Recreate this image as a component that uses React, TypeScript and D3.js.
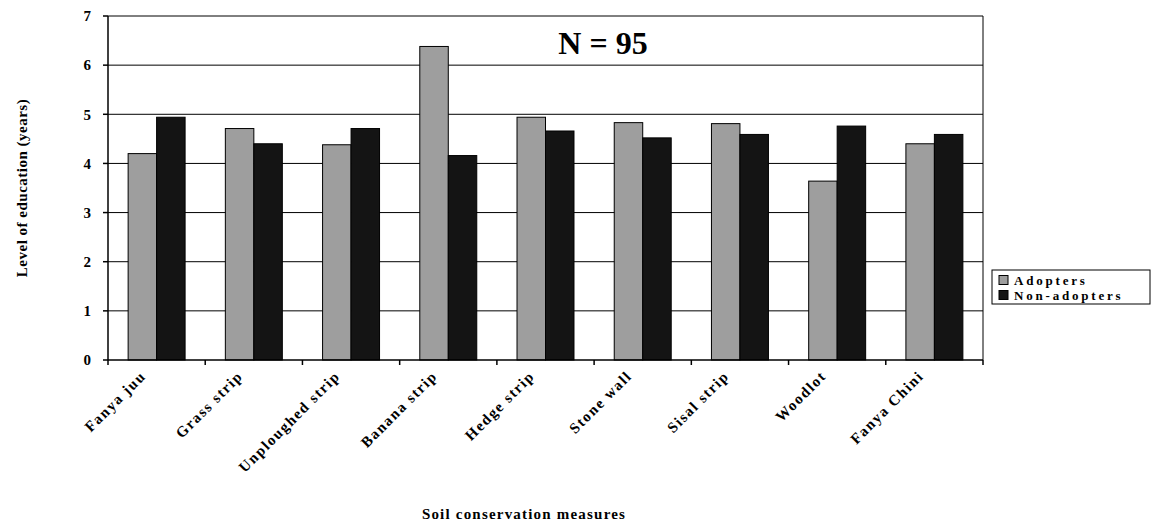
import React from "react";
import * as d3 from "d3";

const categories = [
  "Fanya juu",
  "Grass strip",
  "Unploughed strip",
  "Banana strip",
  "Hedge strip",
  "Stone wall",
  "Sisal strip",
  "Woodlot",
  "Fanya Chini",
];
const adopters = [4.2, 4.71, 4.38, 6.38, 4.94, 4.83, 4.81, 3.64, 4.4];
const nonAdopters = [4.94, 4.4, 4.71, 4.16, 4.66, 4.52, 4.59, 4.76, 4.59];
const seriesNames = ["Adopters", "Non-adopters"];
const seriesColors = ["#9e9e9e", "#141414"];
const yTicks = [0, 1, 2, 3, 4, 5, 6, 7];

const W = 1152;
const H = 523;
const plot = { left: 108, right: 983, top: 16, bottom: 360 };
const font = "'Liberation Serif', 'Times New Roman', serif";

export default function App() {
  const x = d3
    .scaleBand<string>()
    .domain(categories)
    .range([plot.left, plot.right])
    .paddingInner(0.414)
    .paddingOuter(0.207);
  const step = x.step();
  const xCat = d3.scaleBand<string>().domain(categories).range([plot.left, plot.right]);
  const inner = d3.scaleBand<string>().domain(seriesNames).range([0, x.bandwidth()]);
  const y = d3.scaleLinear().domain([0, 7]).range([plot.bottom, plot.top]);
  const series = [adopters, nonAdopters];

  return (
    <svg width={W} height={H} style={{ display: "block", position: "absolute", left: 0, top: 0 }}>
      <rect width={W} height={H} fill="#fff" />
      {/* gridlines */}
      {yTicks.slice(1).map((t) => (
        <line key={t} x1={plot.left} x2={plot.right} y1={y(t)} y2={y(t)} stroke="#000" strokeWidth={1} />
      ))}
      {/* plot border */}
      <line x1={plot.right} x2={plot.right} y1={plot.top} y2={plot.bottom} stroke="#000" strokeWidth={1} />
      {/* bars */}
      {categories.map((c, i) =>
        series.map((s, k) => (
          <rect
            key={c + k}
            x={(x(c) ?? 0) + (inner(seriesNames[k]) ?? 0)}
            y={y(s[i])}
            width={inner.bandwidth()}
            height={y(0) - y(s[i])}
            fill={seriesColors[k]}
            stroke="#000"
            strokeWidth={1}
          />
        ))
      )}
      {/* y axis */}
      <line x1={plot.left} x2={plot.left} y1={plot.top} y2={plot.bottom + 5} stroke="#000" strokeWidth={1.5} />
      {yTicks.map((t) => (
        <g key={t}>
          <line x1={plot.left - 5} x2={plot.left} y1={y(t)} y2={y(t)} stroke="#000" strokeWidth={1.5} />
          <text
            x={plot.left - 17}
            y={y(t)}
            dy="0.35em"
            textAnchor="end"
            fontFamily={font}
            fontWeight="bold"
            fontSize={15}
          >
            {t}
          </text>
        </g>
      ))}
      {/* x axis */}
      <line x1={plot.left} x2={plot.right} y1={plot.bottom} y2={plot.bottom} stroke="#000" strokeWidth={1.5} />
      {categories.map((c, i) => (
        <line
          key={"t" + i}
          x1={(xCat(c) ?? 0) + step}
          x2={(xCat(c) ?? 0) + step}
          y1={plot.bottom}
          y2={plot.bottom + 5}
          stroke="#000"
          strokeWidth={1.5}
        />
      ))}
      {categories.map((c) => {
        const cx = (xCat(c) ?? 0) + step / 2 - 10;
        const cy = plot.bottom + 17;
        return (
          <text
            key={"l" + c}
            transform={`translate(${cx},${cy}) rotate(-45)`}
            textAnchor="end"
            fontFamily={font}
            fontWeight="bold"
            fontSize={15}
            letterSpacing={1.5}
          >
            {c}
          </text>
        );
      })}
      {/* annotation */}
      <text x={603} y={54} textAnchor="middle" fontFamily={font} fontWeight="bold" fontSize={32}>
        N = 95
      </text>
      {/* axis titles */}
      <text x={524} y={519} textAnchor="middle" fontFamily={font} fontWeight="bold" fontSize={15} letterSpacing={1.2}>
        Soil conservation measures
      </text>
      <text
        transform={`translate(27,${(plot.top + plot.bottom) / 2}) rotate(-90)`}
        textAnchor="middle"
        fontFamily={font}
        fontWeight="bold"
        fontSize={15}
        letterSpacing={0.5}
      >
        Level of education (years)
      </text>
      {/* legend */}
      <g transform="translate(992,270)">
        <rect x={0} y={0} width={158} height={34} fill="#fff" stroke="#000" strokeWidth={1} />
        {seriesNames.map((n, k) => (
          <g key={n} transform={`translate(7,${10 + k * 15})`}>
            <rect x={0} y={-4.5} width={9} height={9} fill={seriesColors[k]} stroke="#000" strokeWidth={1} />
            <text x={15} y={0} dy="0.35em" fontFamily={font} fontWeight="bold" fontSize={13} letterSpacing={2.8}>
              {n}
            </text>
          </g>
        ))}
      </g>
    </svg>
  );
}
